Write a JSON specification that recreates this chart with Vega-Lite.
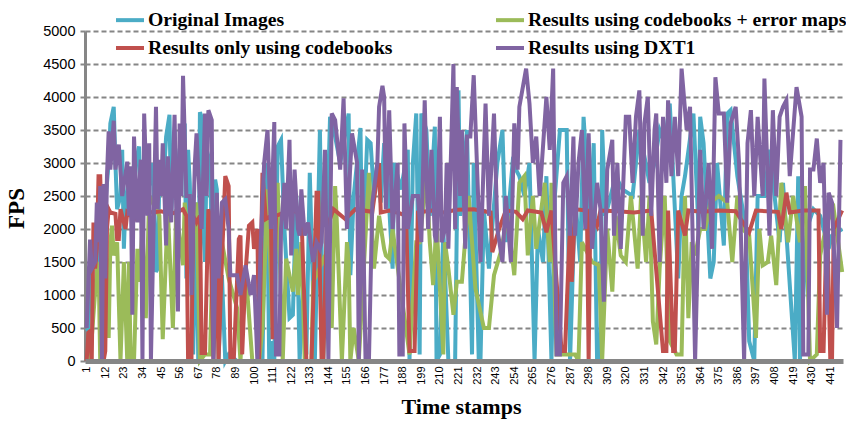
{"$schema":"https://vega.github.io/schema/vega-lite/v6.json","width":758,"height":330,"autosize":"none","padding":{"left":85,"top":31,"right":3,"bottom":60},"background":"white",
"config":{"view":{"stroke":null}},
"datasets":{
"o":[{"t":1,"v":500},{"t":2,"v":450},{"t":3,"v":1300},{"t":5,"v":1800},{"t":7,"v":1400},{"t":9,"v":2000},{"t":10,"v":100},{"t":12,"v":2400},{"t":14,"v":3000},{"t":15,"v":3600},{"t":17,"v":3850},{"t":18,"v":3000},{"t":19,"v":2300},{"t":21,"v":2500},{"t":22,"v":3200},{"t":23,"v":1700},{"t":24,"v":2400},{"t":26,"v":2800},{"t":28,"v":2000},{"t":30,"v":3000},{"t":32,"v":3250},{"t":33,"v":2200},{"t":35,"v":2600},{"t":37,"v":2500},{"t":40,"v":3000},{"t":42,"v":1350},{"t":43,"v":1400},{"t":44,"v":2800},{"t":46,"v":2500},{"t":48,"v":3400},{"t":50,"v":3730},{"t":51,"v":2200},{"t":53,"v":3500},{"t":54,"v":2500},{"t":56,"v":3200},{"t":59,"v":3600},{"t":60,"v":1250},{"t":61,"v":3200},{"t":62,"v":2700},{"t":63,"v":1500},{"t":64,"v":100},{"t":66,"v":2400},{"t":67,"v":0},{"t":68,"v":3770},{"t":69,"v":3700},{"t":70,"v":2000},{"t":71,"v":1500},{"t":72,"v":3200},{"t":74,"v":3000},{"t":75,"v":1800},{"t":76,"v":600},{"t":77,"v":2750},{"t":78,"v":2600},{"t":79,"v":0},{"t":81,"v":1300},{"t":83,"v":0},{"t":85,"v":100},{"t":90,"v":0},{"t":95,"v":0},{"t":100,"v":0},{"t":105,"v":0},{"t":106,"v":1600},{"t":107,"v":3000},{"t":108,"v":2000},{"t":109,"v":0},{"t":110,"v":0},{"t":111,"v":300},{"t":112,"v":0},{"t":114,"v":3250},{"t":116,"v":3350},{"t":118,"v":2000},{"t":121,"v":650},{"t":123,"v":700},{"t":125,"v":2500},{"t":127,"v":0},{"t":129,"v":1100},{"t":131,"v":100},{"t":133,"v":2850},{"t":136,"v":0},{"t":139,"v":3500},{"t":141,"v":0},{"t":145,"v":3700},{"t":148,"v":3400},{"t":151,"v":3000},{"t":156,"v":3750},{"t":157,"v":1300},{"t":159,"v":2500},{"t":163,"v":3530},{"t":164,"v":1500},{"t":167,"v":3350},{"t":169,"v":3300},{"t":171,"v":2500},{"t":173,"v":3000},{"t":175,"v":2400},{"t":177,"v":3300},{"t":179,"v":2800},{"t":182,"v":1400},{"t":183,"v":3000},{"t":187,"v":2600},{"t":191,"v":3200},{"t":192,"v":0},{"t":194,"v":3000},{"t":196,"v":3750},{"t":198,"v":100},{"t":199,"v":3750},{"t":202,"v":3500},{"t":204,"v":2200},{"t":207,"v":3550},{"t":208,"v":0},{"t":210,"v":100},{"t":212,"v":2000},{"t":213,"v":1350},{"t":215,"v":0},{"t":219,"v":0},{"t":221,"v":4100},{"t":222,"v":2200},{"t":226,"v":3500},{"t":229,"v":100},{"t":230,"v":3000},{"t":233,"v":0},{"t":234,"v":0},{"t":236,"v":2300},{"t":239,"v":1400},{"t":244,"v":3000},{"t":247,"v":3500},{"t":249,"v":1800},{"t":253,"v":3000},{"t":257,"v":2800},{"t":260,"v":2500},{"t":263,"v":3000},{"t":266,"v":0},{"t":268,"v":2000},{"t":271,"v":1500},{"t":273,"v":2800},{"t":276,"v":0},{"t":278,"v":2500},{"t":281,"v":3500},{"t":283,"v":3500},{"t":285,"v":3500},{"t":287,"v":0},{"t":290,"v":2500},{"t":293,"v":1500},{"t":295,"v":3700},{"t":299,"v":2000},{"t":301,"v":3300},{"t":303,"v":0},{"t":305,"v":0},{"t":306,"v":3500},{"t":308,"v":2200},{"t":314,"v":2800},{"t":318,"v":2600},{"t":324,"v":2500},{"t":328,"v":3500},{"t":334,"v":2700},{"t":337,"v":3000},{"t":340,"v":3500},{"t":343,"v":3300},{"t":346,"v":3900},{"t":351,"v":1250},{"t":353,"v":2500},{"t":355,"v":2800},{"t":360,"v":3750},{"t":363,"v":2000},{"t":364,"v":3700},{"t":366,"v":3300},{"t":370,"v":1250},{"t":372,"v":1500},{"t":374,"v":3000},{"t":378,"v":1750},{"t":380,"v":3750},{"t":382,"v":3800},{"t":386,"v":2800},{"t":391,"v":2000},{"t":393,"v":300},{"t":396,"v":0},{"t":398,"v":2500},{"t":402,"v":2500},{"t":405,"v":3200},{"t":411,"v":1800},{"t":413,"v":2700},{"t":420,"v":0},{"t":422,"v":2800},{"t":423,"v":0},{"t":427,"v":2000},{"t":431,"v":2300},{"t":435,"v":2200},{"t":440,"v":1700},{"t":442,"v":1900},{"t":448,"v":2000}],
"g":[{"t":1,"v":0},{"t":3,"v":0},{"t":7,"v":1400},{"t":8,"v":1500},{"t":9,"v":0},{"t":12,"v":2000},{"t":13,"v":1000},{"t":14,"v":350},{"t":15,"v":1800},{"t":16,"v":2050},{"t":17,"v":1600},{"t":19,"v":1800},{"t":21,"v":0},{"t":23,"v":1500},{"t":25,"v":0},{"t":26,"v":1500},{"t":27,"v":0},{"t":29,"v":0},{"t":31,"v":1700},{"t":32,"v":1200},{"t":34,"v":2000},{"t":36,"v":650},{"t":38,"v":2500},{"t":44,"v":2200},{"t":46,"v":330},{"t":49,"v":2300},{"t":52,"v":500},{"t":54,"v":2300},{"t":58,"v":1450},{"t":59,"v":2400},{"t":62,"v":1500},{"t":66,"v":2400},{"t":68,"v":0},{"t":71,"v":100},{"t":74,"v":100},{"t":76,"v":2200},{"t":78,"v":1000},{"t":81,"v":1800},{"t":85,"v":1250},{"t":90,"v":800},{"t":92,"v":0},{"t":95,"v":1400},{"t":99,"v":0},{"t":103,"v":0},{"t":105,"v":500},{"t":108,"v":2600},{"t":111,"v":500},{"t":114,"v":2700},{"t":117,"v":0},{"t":119,"v":1550},{"t":121,"v":1300},{"t":123,"v":1050},{"t":125,"v":1700},{"t":126,"v":1000},{"t":128,"v":1800},{"t":130,"v":0},{"t":132,"v":0},{"t":134,"v":0},{"t":135,"v":1200},{"t":137,"v":1300},{"t":142,"v":1600},{"t":146,"v":500},{"t":148,"v":2650},{"t":149,"v":2100},{"t":152,"v":0},{"t":155,"v":1800},{"t":156,"v":1500},{"t":157,"v":0},{"t":159,"v":500},{"t":162,"v":0},{"t":168,"v":2850},{"t":171,"v":1400},{"t":174,"v":2200},{"t":177,"v":1700},{"t":178,"v":1600},{"t":180,"v":1550},{"t":182,"v":2000},{"t":183,"v":1800},{"t":192,"v":100},{"t":196,"v":1800},{"t":198,"v":1800},{"t":202,"v":2800},{"t":204,"v":1800},{"t":206,"v":1150},{"t":208,"v":2100},{"t":212,"v":100},{"t":213,"v":1800},{"t":215,"v":1400},{"t":218,"v":700},{"t":220,"v":1200},{"t":223,"v":1200},{"t":227,"v":2500},{"t":231,"v":1100},{"t":236,"v":500},{"t":239,"v":500},{"t":242,"v":1300},{"t":246,"v":1650},{"t":250,"v":2200},{"t":254,"v":1300},{"t":257,"v":2700},{"t":260,"v":2800},{"t":262,"v":1600},{"t":265,"v":2500},{"t":267,"v":1700},{"t":272,"v":2700},{"t":275,"v":1500},{"t":276,"v":2700},{"t":279,"v":100},{"t":284,"v":100},{"t":289,"v":100},{"t":290,"v":100},{"t":292,"v":0},{"t":294,"v":1800},{"t":300,"v":1500},{"t":304,"v":1450},{"t":306,"v":0},{"t":309,"v":2000},{"t":312,"v":1050},{"t":314,"v":2200},{"t":317,"v":1600},{"t":320,"v":1500},{"t":323,"v":2500},{"t":327,"v":1400},{"t":329,"v":2500},{"t":332,"v":1500},{"t":334,"v":2500},{"t":336,"v":600},{"t":338,"v":250},{"t":340,"v":1400},{"t":343,"v":2500},{"t":346,"v":300},{"t":350,"v":100},{"t":353,"v":100},{"t":355,"v":2500},{"t":357,"v":650},{"t":359,"v":1800},{"t":361,"v":1600},{"t":364,"v":2000},{"t":367,"v":2000},{"t":370,"v":2400},{"t":375,"v":2500},{"t":380,"v":2400},{"t":383,"v":1500},{"t":386,"v":2500},{"t":389,"v":2000},{"t":393,"v":1900},{"t":397,"v":350},{"t":399,"v":2000},{"t":401,"v":1450},{"t":404,"v":1500},{"t":406,"v":1900},{"t":409,"v":1150},{"t":412,"v":2700},{"t":416,"v":1800},{"t":419,"v":2500},{"t":423,"v":1800},{"t":426,"v":2650},{"t":429,"v":0},{"t":433,"v":100},{"t":435,"v":1600},{"t":439,"v":2100},{"t":443,"v":2300},{"t":448,"v":1350}],
"r":[{"t":1,"v":0},{"t":2,"v":430},{"t":3,"v":450},{"t":4,"v":0},{"t":5,"v":2100},{"t":6,"v":1400},{"t":7,"v":1700},{"t":8,"v":2800},{"t":9,"v":2800},{"t":10,"v":1900},{"t":11,"v":0},{"t":12,"v":150},{"t":13,"v":2000},{"t":14,"v":2300},{"t":15,"v":2250},{"t":18,"v":2230},{"t":19,"v":1850},{"t":20,"v":1850},{"t":21,"v":2300},{"t":22,"v":2200},{"t":24,"v":2000},{"t":25,"v":2250},{"t":27,"v":2200},{"t":30,"v":2150},{"t":35,"v":2280},{"t":40,"v":2250},{"t":45,"v":2270},{"t":50,"v":2230},{"t":55,"v":2260},{"t":58,"v":2300},{"t":60,"v":2200},{"t":61,"v":0},{"t":63,"v":0},{"t":64,"v":2200},{"t":66,"v":2100},{"t":68,"v":2200},{"t":69,"v":120},{"t":71,"v":120},{"t":73,"v":2300},{"t":74,"v":2200},{"t":76,"v":0},{"t":78,"v":1700},{"t":79,"v":0},{"t":81,"v":1500},{"t":83,"v":2800},{"t":85,"v":2650},{"t":86,"v":0},{"t":88,"v":0},{"t":91,"v":1850},{"t":92,"v":1900},{"t":93,"v":100},{"t":95,"v":1350},{"t":97,"v":2050},{"t":99,"v":2100},{"t":100,"v":1700},{"t":102,"v":2000},{"t":103,"v":0},{"t":105,"v":2850},{"t":107,"v":2150},{"t":110,"v":2200},{"t":111,"v":330},{"t":113,"v":2200},{"t":118,"v":2250},{"t":122,"v":2280},{"t":127,"v":2250},{"t":128,"v":2250},{"t":131,"v":0},{"t":134,"v":0},{"t":137,"v":2550},{"t":138,"v":2550},{"t":140,"v":0},{"t":141,"v":0},{"t":143,"v":2000},{"t":147,"v":2300},{"t":154,"v":2150},{"t":160,"v":2300},{"t":170,"v":2260},{"t":174,"v":3000},{"t":175,"v":2250},{"t":180,"v":2280},{"t":186,"v":2240},{"t":190,"v":2200},{"t":192,"v":150},{"t":195,"v":150},{"t":197,"v":2250},{"t":205,"v":2280},{"t":212,"v":2250},{"t":220,"v":2290},{"t":230,"v":2300},{"t":240,"v":2250},{"t":241,"v":1650},{"t":245,"v":2000},{"t":249,"v":2280},{"t":255,"v":2260},{"t":259,"v":2150},{"t":262,"v":2280},{"t":270,"v":2250},{"t":273,"v":1950},{"t":276,"v":2280},{"t":282,"v":150},{"t":284,"v":150},{"t":287,"v":2100},{"t":288,"v":1200},{"t":290,"v":2300},{"t":297,"v":2280},{"t":298,"v":0},{"t":299,"v":2280},{"t":303,"v":2050},{"t":305,"v":2280},{"t":315,"v":2270},{"t":325,"v":2250},{"t":335,"v":2280},{"t":342,"v":150},{"t":344,"v":150},{"t":345,"v":2280},{"t":348,"v":150},{"t":349,"v":150},{"t":351,"v":2280},{"t":355,"v":1900},{"t":357,"v":2280},{"t":365,"v":2260},{"t":375,"v":2280},{"t":385,"v":2270},{"t":393,"v":1950},{"t":397,"v":2280},{"t":410,"v":2260},{"t":412,"v":2000},{"t":415,"v":2550},{"t":417,"v":2250},{"t":425,"v":2280},{"t":434,"v":2280},{"t":435,"v":150},{"t":437,"v":150},{"t":439,"v":2280},{"t":441,"v":0},{"t":442,"v":0},{"t":443,"v":2000},{"t":448,"v":2280}],
"p":[{"t":1,"v":500},{"t":3,"v":1840},{"t":4,"v":1400},{"t":6,"v":1500},{"t":7,"v":2400},{"t":8,"v":1800},{"t":9,"v":2650},{"t":10,"v":0},{"t":11,"v":2680},{"t":12,"v":1250},{"t":13,"v":2800},{"t":14,"v":3480},{"t":15,"v":2900},{"t":17,"v":3640},{"t":18,"v":2900},{"t":20,"v":3280},{"t":22,"v":2500},{"t":25,"v":3020},{"t":26,"v":2200},{"t":27,"v":2950},{"t":28,"v":700},{"t":29,"v":3400},{"t":31,"v":2100},{"t":33,"v":3050},{"t":34,"v":0},{"t":35,"v":3750},{"t":37,"v":2200},{"t":38,"v":3300},{"t":39,"v":0},{"t":42,"v":3850},{"t":43,"v":2300},{"t":44,"v":3050},{"t":45,"v":2500},{"t":46,"v":3300},{"t":48,"v":1750},{"t":49,"v":3100},{"t":51,"v":2100},{"t":53,"v":3730},{"t":55,"v":750},{"t":56,"v":3600},{"t":57,"v":2500},{"t":58,"v":4320},{"t":60,"v":2500},{"t":62,"v":2500},{"t":63,"v":1000},{"t":65,"v":3000},{"t":66,"v":3450},{"t":67,"v":2900},{"t":69,"v":2000},{"t":71,"v":3750},{"t":72,"v":2500},{"t":73,"v":3800},{"t":75,"v":3650},{"t":76,"v":0},{"t":78,"v":2550},{"t":79,"v":1250},{"t":81,"v":2400},{"t":83,"v":2450},{"t":85,"v":2000},{"t":86,"v":1300},{"t":88,"v":1300},{"t":90,"v":1300},{"t":92,"v":1000},{"t":95,"v":1450},{"t":98,"v":1000},{"t":100,"v":1300},{"t":102,"v":0},{"t":104,"v":1800},{"t":106,"v":3000},{"t":108,"v":3500},{"t":110,"v":2000},{"t":112,"v":3620},{"t":113,"v":100},{"t":115,"v":100},{"t":116,"v":2000},{"t":118,"v":2700},{"t":119,"v":2000},{"t":121,"v":3350},{"t":122,"v":1600},{"t":124,"v":2900},{"t":126,"v":2000},{"t":127,"v":1900},{"t":128,"v":2600},{"t":130,"v":1900},{"t":132,"v":2100},{"t":135,"v":1500},{"t":137,"v":1800},{"t":139,"v":1700},{"t":140,"v":1800},{"t":142,"v":3200},{"t":144,"v":0},{"t":146,"v":3750},{"t":148,"v":3650},{"t":149,"v":3400},{"t":151,"v":2900},{"t":153,"v":3980},{"t":155,"v":2000},{"t":158,"v":3450},{"t":161,"v":3000},{"t":162,"v":0},{"t":164,"v":2900},{"t":166,"v":0},{"t":168,"v":0},{"t":170,"v":2400},{"t":173,"v":3000},{"t":174,"v":3850},{"t":176,"v":4170},{"t":177,"v":4000},{"t":178,"v":2300},{"t":180,"v":3800},{"t":182,"v":2000},{"t":185,"v":3000},{"t":186,"v":100},{"t":188,"v":100},{"t":189,"v":3600},{"t":191,"v":2000},{"t":194,"v":2500},{"t":197,"v":2500},{"t":199,"v":1800},{"t":201,"v":3950},{"t":203,"v":2000},{"t":205,"v":3200},{"t":207,"v":1900},{"t":208,"v":1800},{"t":210,"v":3700},{"t":211,"v":1800},{"t":213,"v":2000},{"t":214,"v":3000},{"t":215,"v":1700},{"t":218,"v":4500},{"t":219,"v":2000},{"t":220,"v":4150},{"t":222,"v":2500},{"t":223,"v":3500},{"t":225,"v":1700},{"t":226,"v":3400},{"t":228,"v":3400},{"t":230,"v":4330},{"t":234,"v":1500},{"t":237,"v":3900},{"t":239,"v":2200},{"t":242,"v":3750},{"t":244,"v":2000},{"t":247,"v":1500},{"t":249,"v":2500},{"t":252,"v":1500},{"t":254,"v":3600},{"t":256,"v":2900},{"t":257,"v":3850},{"t":261,"v":4430},{"t":263,"v":3900},{"t":265,"v":3000},{"t":267,"v":3400},{"t":269,"v":2500},{"t":273,"v":4000},{"t":275,"v":3200},{"t":277,"v":4430},{"t":279,"v":100},{"t":281,"v":100},{"t":283,"v":2700},{"t":285,"v":2800},{"t":287,"v":1900},{"t":289,"v":3400},{"t":290,"v":1900},{"t":292,"v":3000},{"t":294,"v":3500},{"t":296,"v":2000},{"t":298,"v":3450},{"t":300,"v":1700},{"t":303,"v":2700},{"t":305,"v":2300},{"t":307,"v":900},{"t":309,"v":2900},{"t":312,"v":3350},{"t":313,"v":1900},{"t":315,"v":3000},{"t":317,"v":1700},{"t":320,"v":3700},{"t":322,"v":3700},{"t":324,"v":2700},{"t":326,"v":3700},{"t":328,"v":4100},{"t":330,"v":1900},{"t":331,"v":3600},{"t":333,"v":4000},{"t":335,"v":2200},{"t":337,"v":3500},{"t":338,"v":3750},{"t":340,"v":1500},{"t":342,"v":3700},{"t":344,"v":2700},{"t":345,"v":3950},{"t":347,"v":2800},{"t":349,"v":3700},{"t":351,"v":2800},{"t":353,"v":4430},{"t":356,"v":3500},{"t":358,"v":3850},{"t":361,"v":0},{"t":364,"v":3200},{"t":366,"v":2000},{"t":369,"v":3000},{"t":371,"v":1700},{"t":373,"v":4300},{"t":375,"v":3750},{"t":378,"v":3750},{"t":380,"v":2400},{"t":382,"v":3600},{"t":385,"v":3850},{"t":387,"v":3000},{"t":390,"v":0},{"t":392,"v":3300},{"t":394,"v":3800},{"t":396,"v":2500},{"t":398,"v":3700},{"t":401,"v":2500},{"t":402,"v":4280},{"t":405,"v":1900},{"t":407,"v":3800},{"t":409,"v":2500},{"t":411,"v":3700},{"t":413,"v":3850},{"t":415,"v":3950},{"t":417,"v":2800},{"t":421,"v":4150},{"t":424,"v":3700},{"t":425,"v":100},{"t":428,"v":100},{"t":429,"v":2900},{"t":431,"v":2900},{"t":433,"v":3370},{"t":435,"v":2700},{"t":437,"v":3000},{"t":439,"v":700},{"t":440,"v":2550},{"t":442,"v":2400},{"t":445,"v":500},{"t":447,"v":3350}]
},
"encoding":{
"x":{"field":"t","type":"quantitative","scale":{"domain":[0,448.5],"nice":false,"zero":false},"axis":{"values":[1,12,23,34,45,56,67,78,89,100,111,122,133,144,155,166,177,188,199,210,221,232,243,254,265,276,287,298,309,320,331,342,353,364,375,386,397,408,419,430,441],"grid":false,"zindex":1,"title":"Time stamps","titleFont":"Liberation Serif","titleFontWeight":"bold","titleFontSize":22,"titleColor":"black","titleX":376,"titleY":52,"titleAlign":"center","titleBaseline":"alphabetic","labelAngle":-90,"labelFont":"Liberation Sans","labelFontSize":11,"labelColor":"black","labelPadding":3,"labelAlign":"right","labelBaseline":"middle","labelOverlap":false,"domainColor":"#868686","domainWidth":5,"tickColor":"#868686","tickSize":2,"tickWidth":1}},
"y":{"field":"v","type":"quantitative","scale":{"domain":[0,5000],"nice":false},"axis":{"values":[0,500,1000,1500,2000,2500,3000,3500,4000,4500,5000],"format":"d","grid":true,"gridColor":"#868686","gridWidth":2,"gridDash":[5,3],"zindex":0,"title":"FPS","titleFont":"Liberation Serif","titleFontWeight":"bold","titleFontSize":23,"titleColor":"black","titleX":-57,"titleY":177,"titleAngle":-90,"labelFont":"Liberation Sans","labelFontSize":14.5,"labelColor":"black","labelPadding":4,"domainColor":"#868686","domainWidth":3,"tickColor":"#868686","tickWidth":2,"tickSize":6,"tickDash":[5,3]}},
"color":{"scale":{"domain":["Original Images","Results only using codebooks","Results using codebooks + error maps","Results using DXT1"],"range":["#4BACC6","#C0504D","#9BBB59","#8064A2"]},"legend":{"orient":"none","legendX":29,"legendY":-27,"columns":2,"columnPadding":95,"rowPadding":2,"title":null,"symbolType":"stroke","symbolSize":784,"symbolStrokeWidth":4,"labelFont":"Liberation Serif","labelFontWeight":"bold","labelFontSize":19.7,"labelColor":"black","labelOffset":2,"labelLimit":400}}
},
"layer":[
{"data":{"name":"o"},"mark":{"type":"line","strokeWidth":4},"encoding":{"color":{"datum":"Original Images"}}},
{"data":{"name":"g"},"mark":{"type":"line","strokeWidth":4},"encoding":{"color":{"datum":"Results using codebooks + error maps"}}},
{"data":{"name":"r"},"mark":{"type":"line","strokeWidth":4},"encoding":{"color":{"datum":"Results only using codebooks"}}},
{"data":{"name":"p"},"mark":{"type":"line","strokeWidth":4},"encoding":{"color":{"datum":"Results using DXT1"}}}
]}
